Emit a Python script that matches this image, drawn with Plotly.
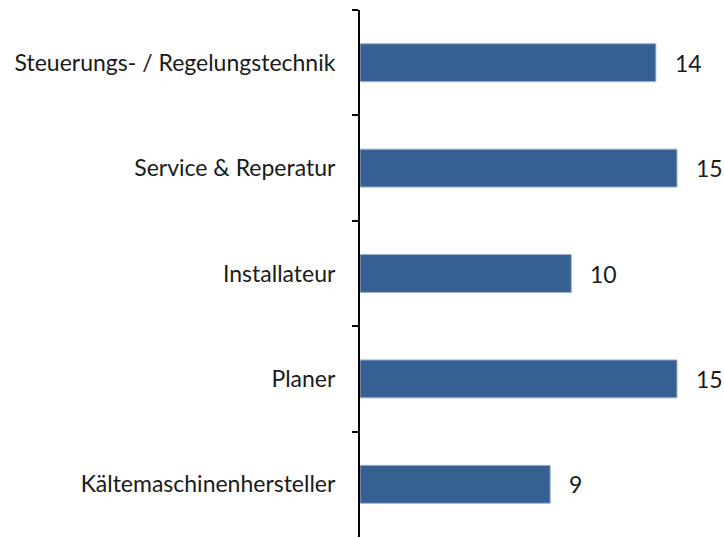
import plotly.graph_objects as go

# Number of mentions per target group
categories = [
    "Steuerungs- / Regelungstechnik",
    "Service & Reperatur",
    "Installateur",
    "Planer",
    "Kältemaschinenhersteller",
]
values = [14, 15, 10, 15, 9]

bar_color = "#376092"
font_family = "Lato, 'Open Sans', sans-serif"
font_size = 23

fig = go.Figure(
    go.Bar(
        x=values,
        y=categories,
        orientation="h",
        width=0.36,
        marker=dict(color=bar_color, line=dict(color="#9DB3D2", width=1)),
        hoverinfo="x+y",
    )
)

# value labels to the right of each bar
for cat, val in zip(categories, values):
    fig.add_annotation(
        x=val, y=cat, text=str(val), showarrow=False,
        xanchor="left", xshift=17,
        font=dict(family=font_family, size=font_size, color="#1a1a1a"),
    )

fig.update_layout(
    width=724,
    height=538,
    margin=dict(l=360, r=0, t=10, b=1),
    plot_bgcolor="white",
    paper_bgcolor="white",
    showlegend=False,
    font=dict(family=font_family, size=font_size, color="#1a1a1a"),
)
fig.update_xaxes(
    range=[0, 364 / (317 / 15)],
    visible=False,
    showgrid=False,
    zeroline=False,
)
fig.update_yaxes(
    type="category",
    categoryorder="array",
    categoryarray=categories,
    autorange="reversed",
    showline=True,
    linecolor="black",
    linewidth=2,
    ticks="outside",
    tickson="boundaries",
    ticklen=6,
    tickwidth=2,
    tickcolor="black",
    ticklabelstandoff=18,
    showgrid=False,
    zeroline=False,
)

fig.write_html("out.html")
